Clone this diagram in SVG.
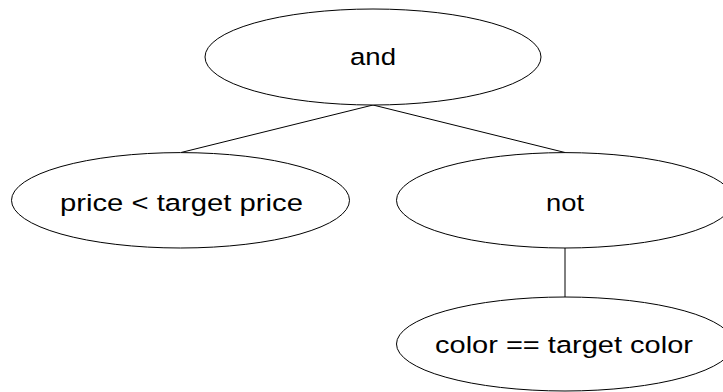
<svg xmlns="http://www.w3.org/2000/svg" width="723" height="392" viewBox="0 0 723 392">
<style>
.node ellipse{fill:#fff;stroke:#000;stroke-width:1}
.node text{font-family:"Liberation Sans",Arial,sans-serif;font-size:24.5px;fill:#000;text-anchor:middle}
.edges line{stroke:#000;stroke-width:1}
</style>
<rect width="723" height="392" fill="#fff"/>
<g class="edges" id="edges">
<line x1="373" y1="105" x2="181" y2="152.5"/>
<line x1="373" y1="105" x2="565" y2="152.5"/>
<line x1="565" y1="248" x2="565" y2="297"/>
</g>
<g class="node" id="and">
<ellipse cx="373" cy="57" rx="168" ry="48"/>
<text x="373" y="65" textLength="46" lengthAdjust="spacingAndGlyphs">and</text>
</g>
<g class="node" id="price">
<ellipse cx="180.5" cy="200.3" rx="169" ry="47.7"/>
<text x="181.5" y="211" textLength="243" lengthAdjust="spacingAndGlyphs">price &lt; target price</text>
</g>
<g class="node" id="not">
<ellipse cx="565" cy="200.3" rx="168.5" ry="47.7"/>
<text x="565" y="210.5" textLength="38" lengthAdjust="spacingAndGlyphs">not</text>
</g>
<g class="node" id="color">
<ellipse cx="565" cy="344" rx="168.5" ry="47"/>
<text x="564" y="353.3" textLength="258" lengthAdjust="spacingAndGlyphs">color == target color</text>
</g>
</svg>
